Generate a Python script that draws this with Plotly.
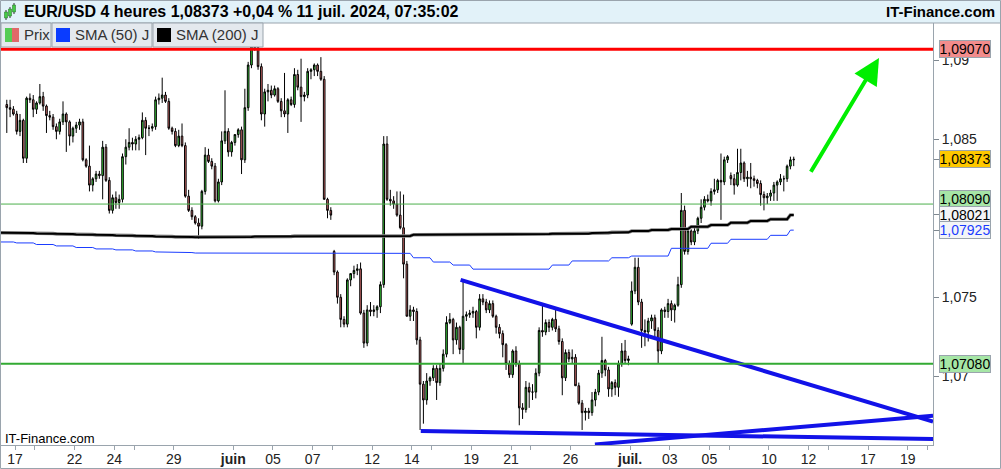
import plotly.graph_objects as go
import pandas as pd

# ---------------- data ----------------
trading_days = [
    "2024-05-16", "2024-05-17",
    "2024-05-20", "2024-05-21", "2024-05-22", "2024-05-23", "2024-05-24",
    "2024-05-27", "2024-05-28", "2024-05-29", "2024-05-30", "2024-05-31",
    "2024-06-03", "2024-06-04", "2024-06-05", "2024-06-06", "2024-06-07",
    "2024-06-10", "2024-06-11", "2024-06-12", "2024-06-13", "2024-06-14",
    "2024-06-17", "2024-06-18", "2024-06-19", "2024-06-20", "2024-06-21",
    "2024-06-24", "2024-06-25", "2024-06-26", "2024-06-27", "2024-06-28",
    "2024-07-01", "2024-07-02", "2024-07-03", "2024-07-04", "2024-07-05",
    "2024-07-08", "2024-07-09", "2024-07-10", "2024-07-11",
]
full_day_hours = [0, 4, 8, 12, 16, 20]
first_day_hours = [12, 16, 20]
last_day_hours = [0, 4]

open_ = [
    1.0872, 1.0870, 1.0869,
    1.0866, 1.0855, 1.0862, 1.0838, 1.0876, 1.0875,
    1.0869, 1.0873, 1.0877, 1.0871, 1.0865, 1.0864,
    1.0858, 1.0855, 1.0861, 1.0866, 1.0861, 1.0852,
    1.0857, 1.0859, 1.0861, 1.0837, 1.0833, 1.0821,
    1.0825, 1.0828, 1.0827, 1.0845, 1.0824, 1.0805,
    1.0813, 1.0810, 1.0812, 1.0839, 1.0845, 1.0848,
    1.0847, 1.0850, 1.0851, 1.0862, 1.0857, 1.0857,
    1.0858, 1.0875, 1.0876, 1.0878, 1.0874, 1.0857,
    1.0855, 1.0846, 1.0852, 1.0846, 1.0814, 1.0805,
    1.0801, 1.0797, 1.0795, 1.0817, 1.0840, 1.0836,
    1.0833, 1.0811, 1.0823, 1.0849, 1.0855, 1.0842,
    1.0848, 1.0853, 1.0856, 1.0837, 1.0870, 1.0897,
    1.0909, 1.0908, 1.0896, 1.0866, 1.0880, 1.0881,
    1.0878, 1.0882, 1.0874, 1.0868, 1.0866, 1.0875,
    1.0872, 1.0891, 1.0883, 1.0877, 1.0878, 1.0893,
    1.0894, 1.0897, 1.0893, 1.0888, 1.0812, 1.0805,
    1.0779, 1.0766, 1.0750, 1.0736, 1.0733, 1.0761,
    1.0765, 1.0767, 1.0768, 1.0740, 1.0721, 1.0742,
    1.0741, 1.0742, 1.0744, 1.0758, 1.0847, 1.0812,
    1.0811, 1.0809, 1.0802, 1.0794, 1.0771, 1.0738,
    1.0742, 1.0741, 1.0723, 1.0695, 1.0685, 1.0697,
    1.0699, 1.0705, 1.0696, 1.0705, 1.0714, 1.0734,
    1.0736, 1.0723, 1.0731, 1.0717, 1.0738, 1.0739,
    1.0740, 1.0741, 1.0731, 1.0749, 1.0747, 1.0742,
    1.0746, 1.0738, 1.0731, 1.0727, 1.0720, 1.0708,
    1.0701, 1.0716, 1.0708, 1.0680, 1.0679, 1.0693,
    1.0690, 1.0690, 1.0702, 1.0729, 1.0728, 1.0734,
    1.0731, 1.0736, 1.0730, 1.0722, 1.0699, 1.0715,
    1.0711, 1.0712, 1.0694, 1.0683, 1.0677, 1.0678,
    1.0677, 1.0685, 1.0690, 1.0702, 1.0710, 1.0704,
    1.0692, 1.0696, 1.0693, 1.0708, 1.0716, 1.0710,
    1.0733, 1.0754, 1.0769, 1.0747, 1.0729, 1.0728,
    1.0735, 1.0737, 1.0729, 1.0716, 1.0742, 1.0741,
    1.0746, 1.0742, 1.0745, 1.0758, 1.0805, 1.0779,
    1.0792, 1.0785, 1.0792, 1.0800, 1.0807, 1.0812,
    1.0811, 1.0817, 1.0818, 1.0824, 1.0823, 1.0837,
    1.0827, 1.0825, 1.0821, 1.0829, 1.0835, 1.0825,
    1.0826, 1.0825, 1.0824, 1.0822, 1.0815, 1.0813,
    1.0814, 1.0816, 1.0821, 1.0823, 1.0825, 1.0825,
    1.0833, 1.0837,
]
high = [
    1.0875, 1.0875, 1.0871,
    1.0868, 1.0866, 1.0863, 1.0877, 1.0879, 1.0878,
    1.0874, 1.0885, 1.0880, 1.0872, 1.0868, 1.0866,
    1.0860, 1.0863, 1.0874, 1.0867, 1.0862, 1.0858,
    1.0861, 1.0863, 1.0863, 1.0838, 1.0846, 1.0826,
    1.0830, 1.0830, 1.0849, 1.0847, 1.0826, 1.0815,
    1.0817, 1.0815, 1.0841, 1.0850, 1.0857, 1.0851,
    1.0852, 1.0853, 1.0867, 1.0864, 1.0859, 1.0860,
    1.0877, 1.0879, 1.0889, 1.0880, 1.0876, 1.0858,
    1.0857, 1.0856, 1.0860, 1.0848, 1.0818, 1.0807,
    1.0802, 1.0800, 1.0818, 1.0845, 1.0844, 1.0838,
    1.0835, 1.0825, 1.0855, 1.0881, 1.0857, 1.0849,
    1.0853, 1.0857, 1.0858, 1.0882, 1.0899, 1.0913,
    1.0913, 1.0912, 1.0898, 1.0882, 1.0885, 1.0884,
    1.0884, 1.0883, 1.0876, 1.0892, 1.0876, 1.0877,
    1.0895, 1.0894, 1.0901, 1.0880, 1.0895, 1.0895,
    1.0898, 1.0898, 1.0902, 1.0890, 1.0813, 1.0807,
    1.0780, 1.0767, 1.0752, 1.0738, 1.0762, 1.0765,
    1.0770, 1.0771, 1.0772, 1.0742, 1.0745, 1.0747,
    1.0745, 1.0745, 1.0760, 1.0852, 1.0852, 1.0818,
    1.0814, 1.0817, 1.0817, 1.0815, 1.0773, 1.0745,
    1.0744, 1.0743, 1.0725, 1.0697, 1.0702, 1.0700,
    1.0707, 1.0707, 1.0708, 1.0717, 1.0738, 1.0740,
    1.0737, 1.0734, 1.0732, 1.0761, 1.0741, 1.0742,
    1.0744, 1.0742, 1.0752, 1.0752, 1.0749, 1.0748,
    1.0748, 1.0739, 1.0733, 1.0729, 1.0721, 1.0710,
    1.0717, 1.0719, 1.0710, 1.0683, 1.0697, 1.0696,
    1.0695, 1.0705, 1.0731, 1.0745, 1.0736, 1.0736,
    1.0737, 1.0742, 1.0732, 1.0724, 1.0717, 1.0717,
    1.0717, 1.0714, 1.0696, 1.0685, 1.0680, 1.0680,
    1.0690, 1.0692, 1.0704, 1.0725, 1.0711, 1.0706,
    1.0697, 1.0698, 1.0710, 1.0721, 1.0723, 1.0713,
    1.0760, 1.0775, 1.0775, 1.0749, 1.0736, 1.0737,
    1.0739, 1.0739, 1.0731, 1.0743, 1.0744, 1.0749,
    1.0748, 1.0746, 1.0763, 1.0816, 1.0808, 1.0793,
    1.0793, 1.0794, 1.0801, 1.0812, 1.0814, 1.0815,
    1.0819, 1.0825, 1.0825, 1.0841, 1.0839, 1.0840,
    1.0829, 1.0828, 1.0844, 1.0844, 1.0836, 1.0830,
    1.0835, 1.0827, 1.0825, 1.0824, 1.0817, 1.0816,
    1.0818, 1.0823, 1.0824, 1.0828, 1.0827, 1.0834,
    1.0839, 1.0839,
]
low = [
    1.0854, 1.0864, 1.0865,
    1.0853, 1.0852, 1.0835, 1.0835, 1.0873, 1.0864,
    1.0866, 1.0872, 1.0868, 1.0854, 1.0862, 1.0856,
    1.0850, 1.0853, 1.0859, 1.0842, 1.0846, 1.0848,
    1.0854, 1.0856, 1.0836, 1.0832, 1.0817, 1.0817,
    1.0823, 1.0825, 1.0812, 1.0823, 1.0803, 1.0803,
    1.0806, 1.0806, 1.0810, 1.0834, 1.0843, 1.0843,
    1.0843, 1.0843, 1.0850, 1.0840, 1.0852, 1.0855,
    1.0856, 1.0872, 1.0873, 1.0873, 1.0856, 1.0853,
    1.0845, 1.0845, 1.0845, 1.0813, 1.0804, 1.0799,
    1.0796, 1.0787, 1.0793, 1.0815, 1.0835, 1.0831,
    1.0810, 1.0810, 1.0821, 1.0847, 1.0839, 1.0839,
    1.0846, 1.0851, 1.0828, 1.0835, 1.0868, 1.0895,
    1.0906, 1.0894, 1.0862, 1.0858, 1.0874, 1.0876,
    1.0877, 1.0873, 1.0864, 1.0864, 1.0854, 1.0871,
    1.0870, 1.0881, 1.0861, 1.0874, 1.0876, 1.0888,
    1.0890, 1.0890, 1.0887, 1.0812, 1.0800, 1.0799,
    1.0764, 1.0746, 1.0731, 1.0731, 1.0731, 1.0757,
    1.0762, 1.0764, 1.0739, 1.0718, 1.0719, 1.0738,
    1.0738, 1.0737, 1.0740, 1.0756, 1.0811, 1.0808,
    1.0806, 1.0801, 1.0793, 1.0762, 1.0738, 1.0735,
    1.0735, 1.0720, 1.0666, 1.0670, 1.0682, 1.0694,
    1.0697, 1.0685, 1.0694, 1.0703, 1.0712, 1.0733,
    1.0714, 1.0720, 1.0714, 1.0708, 1.0735, 1.0737,
    1.0737, 1.0724, 1.0729, 1.0745, 1.0740, 1.0740,
    1.0737, 1.0727, 1.0724, 1.0712, 1.0704, 1.0699,
    1.0699, 1.0706, 1.0669, 1.0673, 1.0677, 1.0680,
    1.0685, 1.0686, 1.0700, 1.0725, 1.0726, 1.0728,
    1.0729, 1.0728, 1.0720, 1.0688, 1.0697, 1.0709,
    1.0708, 1.0694, 1.0682, 1.0666, 1.0672, 1.0673,
    1.0675, 1.0681, 1.0688, 1.0699, 1.0700, 1.0687,
    1.0687, 1.0688, 1.0687, 1.0706, 1.0708, 1.0707,
    1.0732, 1.0752, 1.0745, 1.0718, 1.0719, 1.0722,
    1.0730, 1.0725, 1.0708, 1.0714, 1.0737, 1.0737,
    1.0735, 1.0734, 1.0744, 1.0756, 1.0777, 1.0777,
    1.0783, 1.0783, 1.0790, 1.0797, 1.0805, 1.0810,
    1.0808, 1.0815, 1.0816, 1.0799, 1.0821, 1.0835,
    1.0821, 1.0815, 1.0820, 1.0824, 1.0823, 1.0820,
    1.0819, 1.0820, 1.0819, 1.0808, 1.0805, 1.0809,
    1.0811, 1.0811, 1.0811, 1.0821, 1.0817, 1.0823,
    1.0831, 1.0833,
]
close = [
    1.0870, 1.0869, 1.0866,
    1.0855, 1.0862, 1.0838, 1.0876, 1.0875, 1.0869,
    1.0873, 1.0877, 1.0871, 1.0865, 1.0864, 1.0858,
    1.0855, 1.0861, 1.0866, 1.0861, 1.0852, 1.0857,
    1.0859, 1.0861, 1.0837, 1.0833, 1.0821, 1.0825,
    1.0828, 1.0827, 1.0845, 1.0824, 1.0805, 1.0813,
    1.0810, 1.0812, 1.0839, 1.0845, 1.0848, 1.0847,
    1.0850, 1.0851, 1.0862, 1.0857, 1.0857, 1.0858,
    1.0875, 1.0876, 1.0878, 1.0874, 1.0857, 1.0855,
    1.0846, 1.0852, 1.0846, 1.0814, 1.0805, 1.0801,
    1.0797, 1.0795, 1.0817, 1.0840, 1.0836, 1.0833,
    1.0811, 1.0823, 1.0849, 1.0855, 1.0842, 1.0848,
    1.0853, 1.0856, 1.0837, 1.0870, 1.0897, 1.0909,
    1.0908, 1.0896, 1.0866, 1.0880, 1.0881, 1.0878,
    1.0882, 1.0874, 1.0868, 1.0866, 1.0875, 1.0872,
    1.0891, 1.0883, 1.0877, 1.0878, 1.0893, 1.0894,
    1.0897, 1.0893, 1.0888, 1.0812, 1.0805, 1.0802,
    1.0766, 1.0750, 1.0736, 1.0733, 1.0761, 1.0765,
    1.0767, 1.0768, 1.0740, 1.0721, 1.0742, 1.0741,
    1.0742, 1.0744, 1.0758, 1.0847, 1.0812, 1.0811,
    1.0809, 1.0802, 1.0794, 1.0771, 1.0738, 1.0742,
    1.0741, 1.0723, 1.0695, 1.0685, 1.0697, 1.0699,
    1.0705, 1.0696, 1.0705, 1.0714, 1.0734, 1.0736,
    1.0723, 1.0731, 1.0717, 1.0738, 1.0739, 1.0740,
    1.0741, 1.0731, 1.0749, 1.0747, 1.0742, 1.0746,
    1.0738, 1.0731, 1.0727, 1.0720, 1.0708, 1.0701,
    1.0716, 1.0708, 1.0680, 1.0679, 1.0693, 1.0690,
    1.0690, 1.0702, 1.0729, 1.0728, 1.0734, 1.0731,
    1.0736, 1.0730, 1.0722, 1.0699, 1.0715, 1.0711,
    1.0712, 1.0694, 1.0683, 1.0677, 1.0678, 1.0677,
    1.0685, 1.0690, 1.0702, 1.0710, 1.0704, 1.0692,
    1.0696, 1.0693, 1.0708, 1.0716, 1.0710, 1.0711,
    1.0754, 1.0769, 1.0747, 1.0729, 1.0728, 1.0735,
    1.0737, 1.0729, 1.0716, 1.0742, 1.0741, 1.0746,
    1.0742, 1.0745, 1.0758, 1.0805, 1.0779, 1.0792,
    1.0785, 1.0792, 1.0800, 1.0807, 1.0812, 1.0811,
    1.0817, 1.0818, 1.0824, 1.0823, 1.0837, 1.0839,
    1.0825, 1.0821, 1.0829, 1.0835, 1.0825, 1.0826,
    1.0825, 1.0824, 1.0822, 1.0815, 1.0813, 1.0814,
    1.0816, 1.0821, 1.0823, 1.0825, 1.0825, 1.0833,
    1.0837, 1.08373,
]

# daily moving averages (one value per trading day)
sma50 = [
    1.07850, 1.07844, 1.07834, 1.07825, 1.07815, 1.07806, 1.07800,
    1.07793, 1.07787, 1.07783, 1.07780, 1.07780,
    1.07780, 1.07780, 1.07780, 1.07780, 1.07780,
    1.07778, 1.07778, 1.07778, 1.07778, 1.07750,
    1.07723, 1.07704, 1.07678, 1.07678, 1.07678,
    1.07678, 1.07704, 1.07730, 1.07730, 1.07750,
    1.07761, 1.07761, 1.07810, 1.07810, 1.07842,
    1.07867, 1.07867, 1.07892, 1.07925,
]
sma200 = [
    1.07909, 1.07907, 1.07904, 1.07900, 1.07897, 1.07894, 1.07891,
    1.07888, 1.07885, 1.07881, 1.07880, 1.07880,
    1.07881, 1.07885, 1.07885, 1.07888, 1.07888,
    1.07888, 1.07888, 1.07888, 1.07888, 1.07896,
    1.07896, 1.07896, 1.07896, 1.07897, 1.07897,
    1.07900, 1.07902, 1.07902, 1.07907, 1.07911,
    1.07919, 1.07926, 1.07932, 1.07947, 1.07957,
    1.07972, 1.07983, 1.07994, 1.08021,
]

# horizontal levels
level_red = 1.09070
level_green_thin = 1.08090
level_green = 1.07080

# trend lines (start, end)
trend_down_x = ["2024-06-18 11:00", "2024-07-22 06:30"]
trend_down_y = [1.07610, 1.06713]
trend_flat_x = ["2024-06-14 10:50", "2024-07-22 06:30"]
trend_flat_y = [1.06653, 1.06603]
trend_up_x = ["2024-06-27 05:30", "2024-07-22 06:30"]
trend_up_y = [1.06569, 1.06750]

arrow_tail = ("2024-07-12 01:40", 1.08285)
arrow_tip = ("2024-07-17 13:10", 1.09015)

# right-axis value labels
label_values = [1.09070, 1.08373, 1.08090, 1.08021, 1.07925, 1.07080]
label_texts = ["1,09070", "1,08373", "1,08090", "1,08021", "1,07925", "1,07080"]
label_bg = ["#f28c8c", "#ffc800", "#a6e6a6", "#f3f5f7", "#f3f5f7", "#a6e6a6"]
label_fg = ["#000000", "#000000", "#000000", "#000000", "#1a3cff", "#000000"]
label_shift = [0, 0, 5, 0, 0, 0]

ytick_vals = [1.07, 1.075, 1.085, 1.09]
ytick_text = ["1,07", "1,075", "1,085", "1,09"]

xtick_dates = ["2024-05-17", "2024-05-20", "2024-05-22", "2024-05-24", "2024-05-27",
               "2024-05-29", "2024-06-03", "2024-06-05", "2024-06-07", "2024-06-10",
               "2024-06-12", "2024-06-14", "2024-06-17", "2024-06-19", "2024-06-21",
               "2024-06-24", "2024-06-26", "2024-07-01", "2024-07-03", "2024-07-05",
               "2024-07-08", "2024-07-10", "2024-07-12", "2024-07-15", "2024-07-17",
               "2024-07-19", "2024-07-22"]
xtick_text = ["17", "", "22", "24", "", "29", "<b>juin</b>", "05", "07", "", "12", "14", "",
              "19", "21", "", "26", "<b>juil.</b>", "03", "05", "", "10", "12", "", "17",
              "19", ""]

x_range = ["2024-05-16 07:00", "2024-07-22 06:30"]
y_range = [1.06565, 1.09236]

# ---------------- build ----------------
candle_x = []
for i, d in enumerate(trading_days):
    hours = first_day_hours if i == 0 else (last_day_hours if i == len(trading_days) - 1 else full_day_hours)
    for h in hours:
        candle_x.append(pd.Timestamp(d) + pd.Timedelta(hours=h + 2))
assert len(candle_x) == len(open_) == len(high) == len(low) == len(close)

last_x = candle_x[-1]
sma_x, sma50_y, sma200_y = [], [], []
for d, v50, v200 in zip(trading_days, sma50, sma200):
    t0 = pd.Timestamp(d) + pd.Timedelta(hours=2)
    t1 = min(pd.Timestamp(d) + pd.Timedelta(hours=22), last_x)
    sma_x += [t0, t1]
    sma50_y += [v50, v50]
    sma200_y += [v200, v200]

FONT = "Liberation Sans, Arial, sans-serif"
W, H = 1001, 469
ML, MR, MT, MB = 1, 68, 23, 24
PW, PH = W - ML - MR, H - MT - MB


def fx(px):
    return (px - ML) / PW


def fy(py):
    return (H - MB - py) / PH


fig = go.Figure()

fig.add_trace(go.Scatter(x=sma_x, y=sma200_y, mode="lines",
                         line=dict(color="#8a8a8a", width=3.5), hoverinfo="skip", showlegend=False))
fig.add_trace(go.Scatter(x=sma_x, y=sma200_y, mode="lines",
                         line=dict(color="#000000", width=2), hoverinfo="skip", showlegend=False))
fig.add_trace(go.Scatter(x=sma_x, y=sma50_y, mode="lines",
                         line=dict(color="#1a3cff", width=1), hoverinfo="skip", showlegend=False))

fig.add_trace(go.Candlestick(
    x=candle_x, open=open_, high=high, low=low, close=close,
    increasing=dict(line=dict(color="#000000", width=1), fillcolor="#3cdc3c"),
    decreasing=dict(line=dict(color="#000000", width=1), fillcolor="#e07272"),
    whiskerwidth=0, hoverinfo="skip", showlegend=False,
))

for tx, ty in [(trend_down_x, trend_down_y), (trend_flat_x, trend_flat_y), (trend_up_x, trend_up_y)]:
    fig.add_trace(go.Scatter(x=tx, y=ty, mode="lines",
                             line=dict(color="#1212e8", width=4), hoverinfo="skip", showlegend=False))

shapes = []
# horizontal levels
shapes.append(dict(type="line", xref="paper", yref="y", x0=0, x1=1, y0=level_red, y1=level_red,
                   line=dict(color="#ff0000", width=3)))
shapes.append(dict(type="line", xref="paper", yref="y", x0=0, x1=1, y0=level_green_thin, y1=level_green_thin,
                   line=dict(color="#4caf4c", width=1)))
shapes.append(dict(type="line", xref="paper", yref="y", x0=0, x1=1, y0=level_green, y1=level_green,
                   line=dict(color="#33aa33", width=2)))
# header bar
shapes.append(dict(type="rect", xref="paper", yref="paper", x0=fx(0), x1=fx(1001), y0=fy(0), y1=fy(23),
                   fillcolor="#e2f2f9", line=dict(width=0), layer="above"))
shapes.append(dict(type="line", xref="paper", yref="paper", x0=fx(0), x1=fx(1001), y0=fy(23), y1=fy(23),
                   line=dict(color="#9aa4ad", width=1), layer="above"))
# header icon (three small candles)
for cx, top, bot in [(6, 12, 18), (10, 9, 16), (14, 5, 12)]:
    shapes.append(dict(type="line", xref="paper", yref="paper", x0=fx(cx), x1=fx(cx),
                       y0=fy(top - 2), y1=fy(bot + 2), line=dict(color="#333333", width=1), layer="above"))
    shapes.append(dict(type="rect", xref="paper", yref="paper", x0=fx(cx - 1.5), x1=fx(cx + 1.5),
                       y0=fy(top), y1=fy(bot), fillcolor="#44cc44", line=dict(color="#226622", width=0.5),
                       layer="above"))
# legend boxes
for x0, x1 in [(1, 51), (52, 152), (153, 263)]:
    shapes.append(dict(type="rect", xref="paper", yref="paper", x0=fx(x0), x1=fx(x1), y0=fy(23), y1=fy(47),
                       fillcolor="#e4e9ee", line=dict(color="#9aa4ad", width=1), layer="above"))
shapes.append(dict(type="rect", xref="paper", yref="paper", x0=fx(5), x1=fx(12), y0=fy(28), y1=fy(42),
                   fillcolor="#55cc55", line=dict(width=0), layer="above"))
shapes.append(dict(type="rect", xref="paper", yref="paper", x0=fx(12), x1=fx(19), y0=fy(28), y1=fy(42),
                   fillcolor="#e06868", line=dict(width=0), layer="above"))
shapes.append(dict(type="rect", xref="paper", yref="paper", x0=fx(56), x1=fx(70), y0=fy(28), y1=fy(42),
                   fillcolor="#0a3cff", line=dict(width=0), layer="above"))
shapes.append(dict(type="rect", xref="paper", yref="paper", x0=fx(157), x1=fx(171), y0=fy(28), y1=fy(42),
                   fillcolor="#000000", line=dict(width=0), layer="above"))
# outer frame
shapes.append(dict(type="rect", xref="paper", yref="paper", x0=fx(0.5), x1=fx(1000.5), y0=fy(0.5), y1=fy(468.5),
                   fillcolor="rgba(0,0,0,0)", line=dict(color="#9aa4ad", width=1), layer="above"))

annotations = []
annotations.append(dict(xref="paper", yref="paper", x=fx(22), y=fy(11.5), xanchor="left", yanchor="middle",
                        text="<b>EUR/USD 4 heures 1,08373 +0,04 % 11 juil. 2024, 07:35:02</b>",
                        showarrow=False, font=dict(family=FONT, size=16, color="#000000")))
annotations.append(dict(xref="paper", yref="paper", x=fx(997), y=fy(11.5), xanchor="right", yanchor="middle",
                        text="<b>IT-Finance.com</b>", showarrow=False,
                        font=dict(family=FONT, size=15, color="#000000")))
for tx, txt in [(22, "Prix"), (73, "SMA (50) J"), (174, "SMA (200) J")]:
    annotations.append(dict(xref="paper", yref="paper", x=fx(tx), y=fy(35), xanchor="left", yanchor="middle",
                            text=txt, showarrow=False, font=dict(family=FONT, size=15, color="#333333")))
annotations.append(dict(xref="paper", yref="paper", x=fx(3), y=fy(438), xanchor="left", yanchor="middle",
                        text="IT-Finance.com", showarrow=False, font=dict(family=FONT, size=13, color="#000000")))
# value labels on the right axis
for v, t, bg, fg, sh in zip(label_values, label_texts, label_bg, label_fg, label_shift):
    annotations.append(dict(xref="paper", yref="y", x=1, y=v, xanchor="left", yanchor="middle", xshift=6,
                            yshift=sh, text=t, showarrow=False, bgcolor=bg, bordercolor="#9aa4ad",
                            borderwidth=1, borderpad=0, width=50, height=16,
                            font=dict(family=FONT, size=14, color=fg)))
# green arrow
annotations.append(dict(xref="x", yref="y", axref="x", ayref="y",
                        x=arrow_tip[0], y=arrow_tip[1], ax=arrow_tail[0], ay=arrow_tail[1],
                        text="", showarrow=True, arrowhead=2, arrowsize=1.3, arrowwidth=4,
                        arrowcolor="#00ee00"))

fig.update_layout(
    width=W, height=H,
    margin=dict(l=ML, r=MR, t=MT, b=MB),
    paper_bgcolor="#ffffff", plot_bgcolor="#ffffff",
    showlegend=False,
    shapes=shapes, annotations=annotations,
    font=dict(family=FONT, size=14, color="#222222"),
    xaxis=dict(
        type="date", range=x_range,
        rangebreaks=[dict(bounds=["sat", "mon"])],
        rangeslider=dict(visible=False),
        tickmode="array", tickvals=xtick_dates, ticktext=xtick_text,
        ticks="outside", ticklen=4, tickcolor="#9aa4ad", tickwidth=1,
        ticklabelstandoff=-3,
        showline=True, linecolor="#9aa4ad", linewidth=1,
        showgrid=False, zeroline=False,
        tickfont=dict(family=FONT, size=14, color="#222222"),
    ),
    yaxis=dict(
        side="right", range=y_range,
        tickmode="array",
        tickvals=ytick_vals + [1.08373, 1.08021, 1.07925],
        ticktext=ytick_text + ["", "", ""],
        ticks="outside", ticklen=5, tickcolor="#7f8890", tickwidth=1,
        showline=True, linecolor="#9aa4ad", linewidth=1,
        showgrid=False, zeroline=False,
        tickfont=dict(family=FONT, size=14, color="#222222"),
    ),
)

fig.write_html("out.html", config={"displayModeBar": False},
               post_script="document.body.style.margin='0';document.body.style.overflow='hidden';")
